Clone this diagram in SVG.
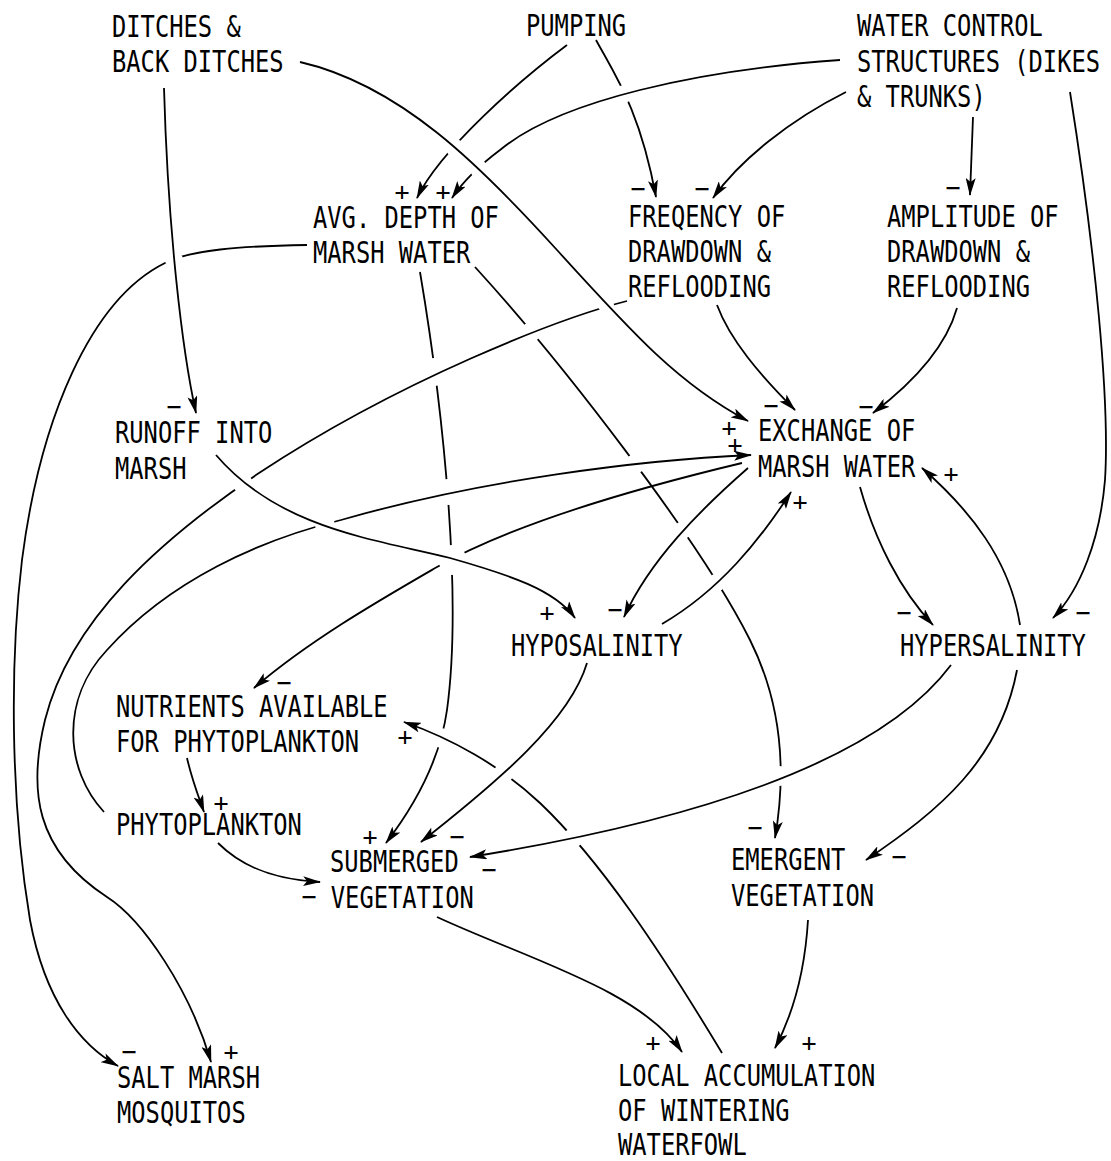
<svg xmlns="http://www.w3.org/2000/svg" width="1111" height="1161" viewBox="0 0 1111 1161">
<style>
text{font-family:"DejaVu Sans Mono","Liberation Mono",monospace;fill:#000}
.n text{font-size:30px}
.s{font-size:25px;text-anchor:middle}
#edges path{fill:none;stroke:#000;stroke-width:1.8;marker-end:url(#ah)}
mask rect{fill:#fff}
mask circle{fill:#000}
</style>
<defs>
<marker id="ah" viewBox="0 0 18 10" refX="17" refY="5" markerWidth="18" markerHeight="10" markerUnits="userSpaceOnUse" orient="auto"><path d="M0,0 L18,5 L0,10 L4,5 z" fill="#000"/></marker>
<mask id="g-pump-avg" maskUnits="userSpaceOnUse" x="0" y="0" width="1111" height="1161"><rect width="1111" height="1161"/><circle cx="454" cy="147" r="9"/></mask>
<mask id="g-wc-avg" maskUnits="userSpaceOnUse" x="0" y="0" width="1111" height="1161"><rect width="1111" height="1161"/><circle cx="478" cy="168" r="9"/></mask>
<mask id="g-avg-salt" maskUnits="userSpaceOnUse" x="0" y="0" width="1111" height="1161"><rect width="1111" height="1161"/><circle cx="174" cy="260" r="9"/></mask>
<mask id="g-pump-freq" maskUnits="userSpaceOnUse" x="0" y="0" width="1111" height="1161"><rect width="1111" height="1161"/><circle cx="624" cy="94" r="9"/></mask>
<mask id="g-freq-salt" maskUnits="userSpaceOnUse" x="0" y="0" width="1111" height="1161"><rect width="1111" height="1161"/><circle cx="606" cy="305" r="8"/><circle cx="243" cy="484" r="10"/></mask>
<mask id="g-phyto-exch" maskUnits="userSpaceOnUse" x="0" y="0" width="1111" height="1161"><rect width="1111" height="1161"/><circle cx="325" cy="525" r="10"/></mask>
<mask id="g-exch-nut" maskUnits="userSpaceOnUse" x="0" y="0" width="1111" height="1161"><rect width="1111" height="1161"/><circle cx="452" cy="559" r="14"/></mask>
<mask id="g-avg-sub" maskUnits="userSpaceOnUse" x="0" y="0" width="1111" height="1161"><rect width="1111" height="1161"/><circle cx="434" cy="372" r="14"/><circle cx="448" cy="492" r="13"/><circle cx="452" cy="560" r="15"/><circle cx="441" cy="738" r="10"/></mask>
<mask id="g-avg-emer" maskUnits="userSpaceOnUse" x="0" y="0" width="1111" height="1161"><rect width="1111" height="1161"/><circle cx="531" cy="332" r="10"/><circle cx="635" cy="464" r="10"/><circle cx="683" cy="530" r="9"/><circle cx="716" cy="583" r="9"/><circle cx="780" cy="776" r="10"/></mask>
<mask id="g-wf-nut" maskUnits="userSpaceOnUse" x="0" y="0" width="1111" height="1161"><rect width="1111" height="1161"/><circle cx="573" cy="838" r="10"/><circle cx="503" cy="774" r="10"/></mask>
</defs>
<rect width="1111" height="1161" fill="#fff"/>
<g id="edges">
<path id="e-ditches-runoff" d="M164,88 C168,230 182,350 196,413"/>
<path id="e-ditches-exch" d="M300,62 C400,85 480,165 557,250 C634,335 680,385 748,421"/>
<path id="e-pump-avg" mask="url(#g-pump-avg)" d="M567,45 C520,80 440,150 417,198"/>
<path id="e-wc-avg" mask="url(#g-wc-avg)" d="M840,60 C700,70 560,100 500,150 C480,165 462,183 452,198"/>
<path id="e-pump-freq" mask="url(#g-pump-freq)" d="M596,40 C615,75 640,110 656,197"/>
<path id="e-wc-freq" d="M846,92 C790,120 740,160 713,198"/>
<path id="e-wc-amp" d="M973,117 L970,195"/>
<path id="e-wc-hyper" d="M1070,92 C1095,250 1110,400 1105,480 C1100,540 1080,590 1053,618"/>
<path id="e-avg-salt" mask="url(#g-avg-salt)" d="M307,245 C240,246 190,250 165,263 C90,300 40,420 22,560 C10,660 10,800 30,920 C45,1000 80,1045 118,1066"/>
<path id="e-freq-salt" mask="url(#g-freq-salt)" d="M627,301 C560,318 400,380 259,473 C160,540 70,620 45,720 C28,790 35,850 107,897 C143,920 190,990 211,1062"/>
<path id="e-exch-nut" mask="url(#g-exch-nut)" d="M742,463 C650,485 520,520 437,567 C380,600 310,640 254,688"/>
<path id="e-exch-hypo" d="M748,468 C700,510 650,560 624,617"/>
<path id="e-hypo-exch" d="M662,624 C720,590 760,540 791,492"/>
<path id="e-exch-hyper" d="M860,487 C875,540 900,590 933,625"/>
<path id="e-hyper-exch" d="M1020,625 C1010,560 970,510 922,468"/>
<path id="e-freq-exch" d="M717,305 C730,340 760,375 795,410"/>
<path id="e-amp-exch" d="M957,308 C945,350 910,385 873,413"/>
<path id="e-avg-sub" mask="url(#g-avg-sub)" d="M420,272 C445,420 462,600 447,710 C440,760 415,805 386,843"/>
<path id="e-avg-emer" mask="url(#g-avg-emer)" d="M475,267 C560,360 700,540 750,640 C785,710 785,780 775,838"/>
<path id="e-hypo-sub" d="M587,663 C570,720 500,780 421,842"/>
<path id="e-hyper-sub" d="M951,665 C880,760 700,820 470,857"/>
<path id="e-hyper-emer" d="M1017,670 C1000,760 940,810 866,860"/>
<path id="e-nut-phyto" d="M187,758 C192,780 198,795 204,812"/>
<path id="e-phyto-sub" d="M218,843 C245,870 280,880 320,882"/>
<path id="e-sub-wf" d="M437,917 C530,960 640,990 682,1052"/>
<path id="e-emer-wf" d="M808,920 C805,970 795,1010 775,1048"/>
<path id="e-runoff-hypo" d="M216,455 C280,530 380,540 450,558 C510,575 555,590 575,618"/>
<path id="e-phyto-exch" mask="url(#g-phyto-exch)" d="M104,812 C65,770 60,700 107,650 C170,580 260,540 341,520 C480,480 640,460 751,455"/>
<path id="e-wf-nut" mask="url(#g-wf-nut)" d="M722,1053 C660,950 600,860 540,803 C500,765 450,738 404,722"/>
</g>
<g id="signs">
<text class="s" x="174" y="415">−</text>
<text class="s" x="402" y="200">+</text>
<text class="s" x="443" y="200">+</text>
<text class="s" x="638" y="197">−</text>
<text class="s" x="702" y="197">−</text>
<text class="s" x="953" y="196">−</text>
<text class="s" x="771" y="414">−</text>
<text class="s" x="866" y="415">−</text>
<text class="s" x="729" y="436">+</text>
<text class="s" x="735" y="453">+</text>
<text class="s" x="951" y="482">+</text>
<text class="s" x="800" y="510">+</text>
<text class="s" x="547" y="621">+</text>
<text class="s" x="615" y="618">−</text>
<text class="s" x="904" y="621">−</text>
<text class="s" x="1083" y="621">−</text>
<text class="s" x="284" y="691">−</text>
<text class="s" x="405" y="745">+</text>
<text class="s" x="221" y="811">+</text>
<text class="s" x="370" y="845">+</text>
<text class="s" x="457" y="845">−</text>
<text class="s" x="489" y="878">−</text>
<text class="s" x="309" y="905">−</text>
<text class="s" x="755" y="836">−</text>
<text class="s" x="899" y="865">−</text>
<text class="s" x="129" y="1060">−</text>
<text class="s" x="231" y="1060">+</text>
<text class="s" x="653" y="1051">+</text>
<text class="s" x="809" y="1051">+</text>
</g>
<g id="ditches" class="n" transform="translate(112,0) scale(0.792,1)"><text y="37">DITCHES &amp;</text><text y="72">BACK DITCHES</text></g>
<g id="pumping" class="n" transform="translate(526,0) scale(0.792,1)"><text y="36">PUMPING</text></g>
<g id="water-control" class="n" transform="translate(857,0) scale(0.792,1)"><text y="36">WATER CONTROL</text><text y="72">STRUCTURES (DIKES</text><text y="107">&amp; TRUNKS)</text></g>
<g id="avg-depth" class="n" transform="translate(313,0) scale(0.792,1)"><text y="228">AVG. DEPTH OF</text><text y="263">MARSH WATER</text></g>
<g id="frequency" class="n" transform="translate(628,0) scale(0.792,1)"><text y="227">FREQENCY OF</text><text y="262">DRAWDOWN &amp;</text><text y="297">REFLOODING</text></g>
<g id="amplitude" class="n" transform="translate(887,0) scale(0.792,1)"><text y="227">AMPLITUDE OF</text><text y="262">DRAWDOWN &amp;</text><text y="297">REFLOODING</text></g>
<g id="runoff" class="n" transform="translate(115,0) scale(0.792,1)"><text y="443">RUNOFF INTO</text><text y="479">MARSH</text></g>
<g id="exchange" class="n" transform="translate(758,0) scale(0.792,1)"><text y="441">EXCHANGE OF</text><text y="477">MARSH WATER</text></g>
<g id="hyposalinity" class="n" transform="translate(511,0) scale(0.792,1)"><text y="656">HYPOSALINITY</text></g>
<g id="hypersalinity" class="n" transform="translate(900,0) scale(0.792,1)"><text y="656">HYPERSALINITY</text></g>
<g id="nutrients" class="n" transform="translate(116,0) scale(0.792,1)"><text y="717">NUTRIENTS AVAILABLE</text><text y="752">FOR PHYTOPLANKTON</text></g>
<g id="phytoplankton" class="n" transform="translate(116,0) scale(0.792,1)"><text y="835">PHYTOPLANKTON</text></g>
<g id="submerged" class="n" transform="translate(330,0) scale(0.792,1)"><text y="872">SUBMERGED</text><text x="1" y="908">VEGETATION</text></g>
<g id="emergent" class="n" transform="translate(731,0) scale(0.792,1)"><text y="870">EMERGENT</text><text y="906">VEGETATION</text></g>
<g id="mosquitos" class="n" transform="translate(117,0) scale(0.792,1)"><text y="1088">SALT MARSH</text><text y="1123">MOSQUITOS</text></g>
<g id="waterfowl" class="n" transform="translate(618,0) scale(0.792,1)"><text y="1086">LOCAL ACCUMULATION</text><text y="1121">OF WINTERING</text><text y="1155">WATERFOWL</text></g>
</svg>
